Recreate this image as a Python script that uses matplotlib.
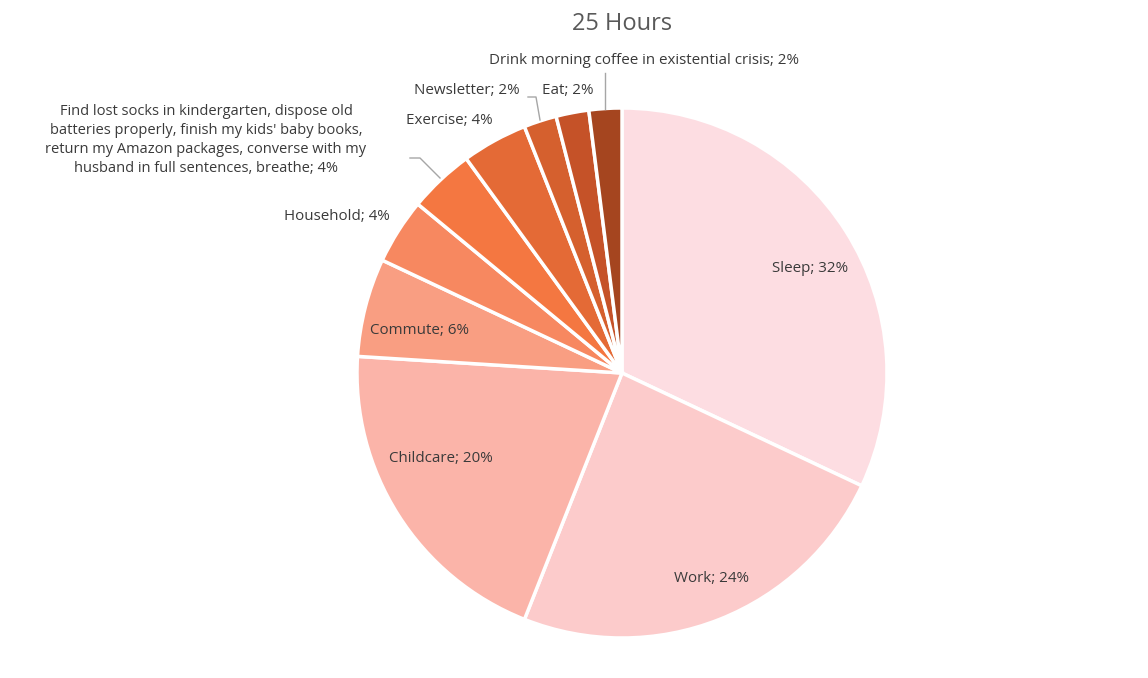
import matplotlib
matplotlib.use("Agg")
import matplotlib.pyplot as plt

# hours out of a 25-hour day, clockwise from 12 o'clock
categories = [
    "Sleep",
    "Work",
    "Childcare",
    "Commute",
    "Household",
    "Find lost socks in kindergarten, dispose old\n"
    "batteries properly, finish my kids' baby books,\n"
    "return my Amazon packages, converse with my\n"
    "husband in full sentences, breathe",
    "Exercise",
    "Newsletter",
    "Eat",
    "Drink morning coffee in existential crisis",
]
hours = [8, 6, 5, 1.5, 1, 1, 1, 0.5, 0.5, 0.5]
percent_labels = ["32%", "24%", "20%", "6%", "4%", "4%", "4%", "2%", "2%", "2%"]

colors = [
    "#FDDDE2", "#FCCBCB", "#FBB4A9", "#F99E82", "#F78860",
    "#F47741", "#E46A36", "#D5602E", "#C55228", "#A5451F",
]

# label anchors in pixel coords (x, y from top), centered text
label_pos = [
    (810, 268), (712, 578), (441, 458), (420, 330), (337, 216),
    (206, 140), (449, 120), (467, 90), (568, 90), (644, 61),
]
# leader lines for the outside labels (pixel coords, y from top)
leaders = {
    5: [(410, 158), (420, 158), (440, 178)],
    7: [(528, 97), (536, 97), (540, 120)],
    9: [(605, 73), (605, 109)],
}

W, H = 1148, 678
fig = plt.figure(figsize=(W / 100, H / 100), dpi=100)
ax = fig.add_axes([0, 0, 1, 1])

cx, cy, r = 622, H - 373, 265
ax.pie(
    hours,
    colors=colors,
    startangle=90,
    counterclock=False,
    center=(cx, cy),
    radius=r,
    frame=True,
    wedgeprops=dict(edgecolor="white", linewidth=2.5),
)
ax.set_xlim(0, W)
ax.set_ylim(0, H)
ax.set_aspect("equal")
ax.axis("off")

font = ["Open Sans", "DejaVu Sans"]
for i, (name, pct) in enumerate(zip(categories, percent_labels)):
    px, py = label_pos[i]
    size = 10.5 if "\n" in name else 10.9
    ax.text(px, H - py, f"{name}; {pct}", ha="center", va="center",
            fontsize=size, color="#3A3A3A", family=font, linespacing=1.35)

for pts in leaders.values():
    xs = [p[0] for p in pts]
    ys = [H - p[1] for p in pts]
    ax.plot(xs, ys, color="#A6A6A6", linewidth=1)

ax.text(622, H - 24, "25 Hours", ha="center", va="center",
        fontsize=17, color="#595959", family=font)

fig.savefig("out.png", dpi=100)
